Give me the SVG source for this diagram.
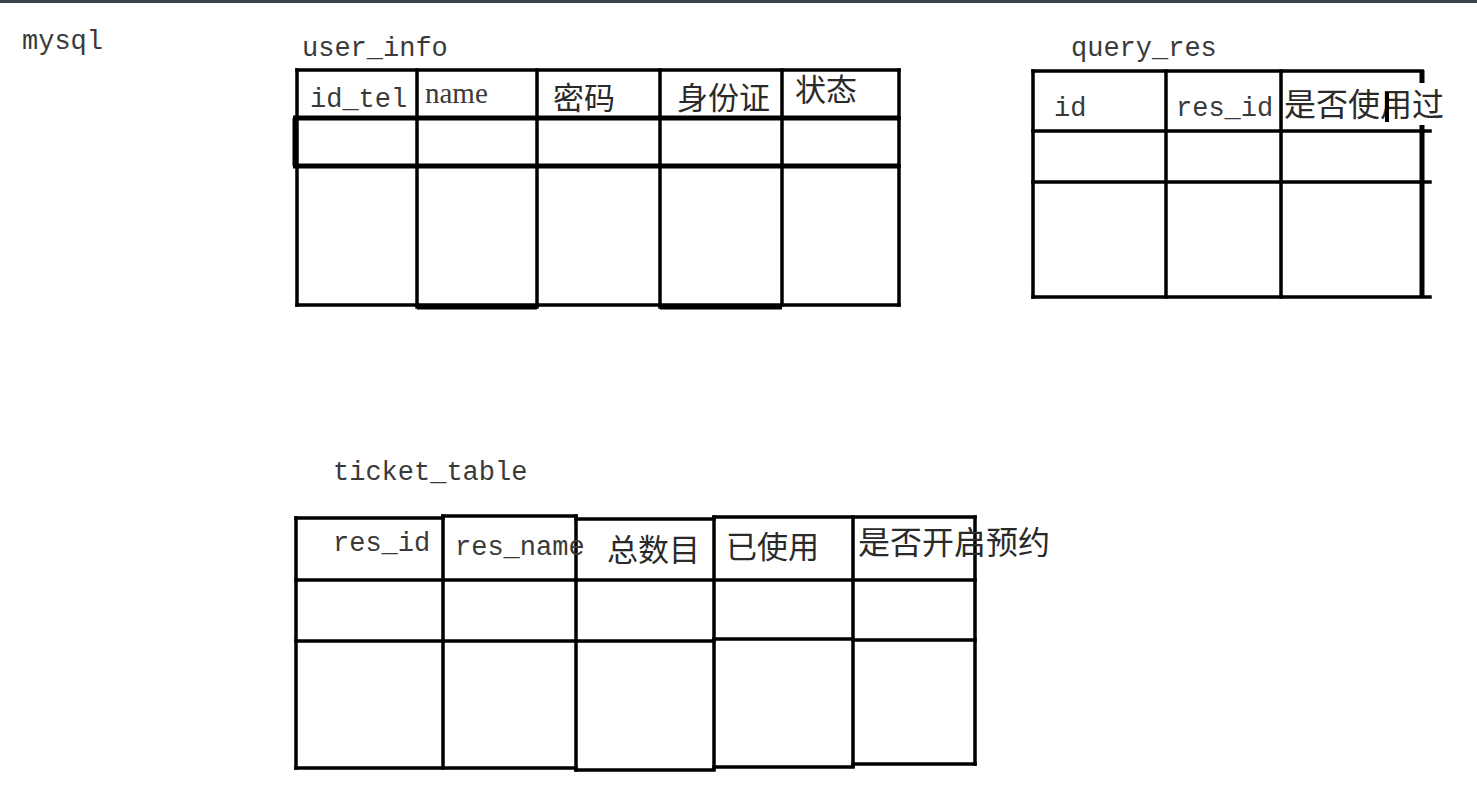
<svg xmlns="http://www.w3.org/2000/svg" width="1477" height="789" viewBox="0 0 1477 789">
<style>
.bg{fill:#ffffff}
.ln{stroke:#000;stroke-width:3.5;fill:none;stroke-linecap:square}
.thk{stroke:#000;stroke-width:5;fill:none}
.mono{font-family:"Liberation Mono","DejaVu Sans Mono",monospace;font-size:27px;fill:#3a3a3a}
.ser{font-family:"Liberation Serif",serif;font-size:29px;fill:#3a3a3a}
.cjk{font-family:"Noto Sans CJK SC","Noto Sans CJK JP",sans-serif;font-size:31px;fill:#2a2a2a}
.cjk2{font-family:"Noto Sans CJK SC","Noto Sans CJK JP",sans-serif;font-size:32px;fill:#2a2a2a}
</style>
<rect class="bg" x="0" y="0" width="1477" height="789"/>
<rect x="0" y="0" width="1477" height="3" fill="#3c4449"/>
<text class="mono" x="22" y="49">mysql</text>

<g id="user_info">
<text class="mono" x="302" y="56">user_info</text>
<path class="ln" d="M297 70H899M297 118H899M297 166H899M297 305H899"/>
<path class="ln" d="M297 70V305M417 70V307M537 70V307M660 70V307M782 70V305M899 70V305"/>
<path class="thk" d="M295 118V166M293 118H900M293 166H900M417 307H537M660 307H782"/>
<text class="mono" x="310" y="107">id_tel</text>
<text class="ser" x="425" y="103">name</text>
<text class="cjk" x="553" y="109">密码</text>
<text class="cjk" x="677" y="109">身份证</text>
<text class="cjk" x="795" y="101">状态</text>
</g>

<g id="query_res">
<text class="mono" x="1071" y="56">query_res</text>
<path class="ln" d="M1033 71H1422M1033 131H1430M1033 182H1430M1033 297H1430"/>
<path class="ln" d="M1033 71V297M1166 71V297M1281 71V297"/>
<path class="thk" d="M1422 70V83M1422 125V297"/>
<text class="mono" x="1054" y="116">id</text>
<text class="mono" x="1176" y="116">res_id</text>
<text class="cjk2" x="1284" y="116">是否使用过</text>
<rect x="1385" y="92" width="4" height="30" fill="#000"/>
</g>

<g id="ticket_table">
<text class="mono" x="333" y="480">ticket_table</text>
<path class="ln" d="M296 518H443M443 516H576M576 519H714M714 517H853M853 517H975"/>
<path class="ln" d="M296 580H975M296 641H714M714 639H853M853 640H975"/>
<path class="ln" d="M296 768H576M576 770H714M714 767H853M853 764H975"/>
<path class="ln" d="M296 518V768M443 516V768M576 516V770M714 517V768M853 517V766M975 517V764"/>
<text class="mono" x="333" y="551">res_id</text>
<text class="mono" x="455" y="555">res_name</text>
<text class="cjk" x="607" y="561">总数目</text>
<text class="cjk" x="726" y="558">已使用</text>
<text class="cjk2" x="858" y="554">是否开启预约</text>
</g>
</svg>
